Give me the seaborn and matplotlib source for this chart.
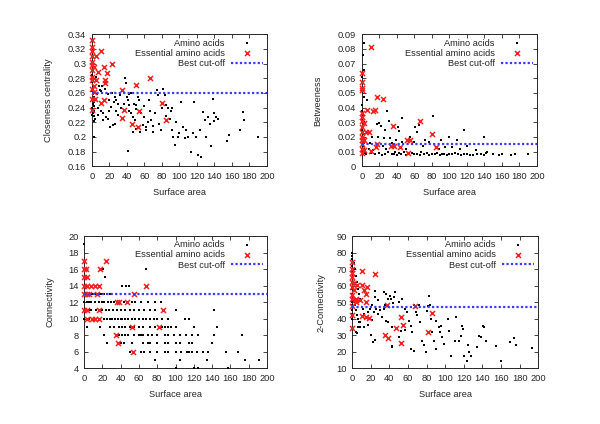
import numpy as np
import pandas as pd
import matplotlib
matplotlib.use("Agg")
import matplotlib.pyplot as plt
from matplotlib.ticker import FuncFormatter, MultipleLocator
import seaborn as sns

# ---- closeness centrality vs surface area ----
close_area = [0, 0, 1, 0, 1, 2, 0, 1, 3, 0, 2, 1, 3, 0, 2, 1, 0, 3, 4, 2, 5, 6, 8, 9, 6, 2,
              7, 11, 13, 7, 16, 18, 20, 22, 13, 21, 24, 26, 26, 28, 30, 32, 34, 38, 39, 40,
              41, 42, 43, 43, 45, 47, 49, 51, 53, 54, 56, 58, 60, 62, 64, 66, 68, 70, 72, 74,
              76, 77, 79, 81, 83, 85, 87, 89, 91, 93, 95, 98, 102, 104, 106, 110, 113, 117,
              119, 121, 125, 127, 129, 133, 135, 138, 139, 142, 154, 157, 169, 173, 174, 190,
              41, 51, 47, 55, 62, 10, 12, 15, 18, 20, 23, 25, 28, 30, 33, 36, 37, 45, 48, 50,
              57, 60, 65, 70, 80, 85, 90, 92, 96, 100, 108, 115, 123, 130, 136, 140, 144]
close_val = [0.29, 0.285, 0.28, 0.275, 0.27, 0.268, 0.262, 0.258, 0.255, 0.25, 0.248, 0.245,
             0.242, 0.24, 0.235, 0.232, 0.23, 0.228, 0.225, 0.222, 0.282, 0.276, 0.27, 0.264,
             0.258, 0.2, 0.239, 0.236, 0.232, 0.23, 0.227, 0.225, 0.236, 0.241, 0.223, 0.214,
             0.216, 0.218, 0.255, 0.25, 0.245, 0.257, 0.264, 0.28, 0.273, 0.255, 0.25, 0.243,
             0.259, 0.236, 0.232, 0.227, 0.223, 0.243, 0.255, 0.25, 0.232, 0.216, 0.227, 0.209,
             0.22, 0.236, 0.223, 0.207, 0.232, 0.264, 0.257, 0.218, 0.209, 0.266, 0.257, 0.243,
             0.239, 0.225, 0.209, 0.2, 0.189, 0.2, 0.248, 0.214, 0.198, 0.2, 0.18, 0.248, 0.2,
             0.175, 0.172, 0.234, 0.223, 0.227, 0.218, 0.252, 0.232, 0.227, 0.195, 0.202, 0.209,
             0.234, 0.223, 0.2, 0.181, 0.211, 0.207, 0.207, 0.214, 0.262, 0.27, 0.265, 0.258,
             0.25, 0.26, 0.248, 0.235, 0.23, 0.24, 0.226, 0.245, 0.26, 0.245, 0.238, 0.26, 0.242,
             0.25, 0.215, 0.24, 0.228, 0.235, 0.24, 0.22, 0.205, 0.21, 0.205, 0.21, 0.2, 0.187,
             0.222, 0.225]
close_ess_area = [0, 0, 0, 10, 0, 5, 0, 0, 23, 3, 14, 7, 0, 17, 0, 0, 15, 15, 5, 66, 51, 3,
                  0, 35, 3, 0, 4, 14, 10, 80, 0, 37, 54, 85, 34, 46, 53]
close_ess = [0.332, 0.323, 0.317, 0.317, 0.311, 0.31, 0.302, 0.298, 0.299, 0.296, 0.295,
             0.289, 0.291, 0.287, 0.282, 0.278, 0.277, 0.274, 0.277, 0.28, 0.271, 0.27, 0.266,
             0.264, 0.261, 0.252, 0.252, 0.25, 0.246, 0.246, 0.237, 0.237, 0.235, 0.223, 0.226,
             0.217, 0.214]
close_cut = 0.26

# ---- betweeness vs surface area ----
betw_area = [2, 1, 2, 0, 2, 6, 0, 0, 1, 0, 2, 1, 0, 3, 1, 0, 2, 1, 3, 0, 2, 5, 8, 10, 13, 15,
             29, 46, 81, 41, 42, 61, 63, 65, 20, 22, 17, 27, 31, 117, 140, 99, 109, 18, 25, 32,
             39, 46, 60, 77, 90, 103, 120, 9, 12, 24, 28, 35, 38, 50, 55, 70, 72, 88, 95, 112,
             130, 143, 20, 23, 26, 30, 34, 37, 40, 43, 45, 48, 51, 54, 57, 60, 63, 66, 68, 71,
             74, 77, 80, 83, 86, 89, 91, 94, 97, 100, 103, 106, 110, 113, 117, 120, 124, 127,
             131, 136, 140, 142, 150, 157, 160, 170, 175, 190]
betw_val = [0.0838, 0.0758, 0.066, 0.061, 0.0473, 0.045, 0.0416, 0.038, 0.035, 0.032, 0.03,
            0.027, 0.025, 0.022, 0.02, 0.018, 0.016, 0.014, 0.012, 0.01, 0.009, 0.008, 0.012,
            0.009, 0.011, 0.008, 0.038, 0.033, 0.0345, 0.0267, 0.024, 0.0265, 0.0235, 0.028,
            0.0295, 0.0272, 0.029, 0.0244, 0.0308, 0.0249, 0.02, 0.0199, 0.0176, 0.0201, 0.0192,
            0.0192, 0.0178, 0.0162, 0.0162, 0.0162, 0.0176, 0.013, 0.0135, 0.016, 0.02, 0.014,
            0.012, 0.016, 0.01, 0.012, 0.02, 0.014, 0.018, 0.012, 0.013, 0.012, 0.011, 0.01,
            0.009, 0.0075, 0.008, 0.01, 0.008, 0.0085, 0.0075, 0.009, 0.008, 0.0095, 0.0078,
            0.0085, 0.009, 0.008, 0.0085, 0.0075, 0.0095, 0.008, 0.009, 0.0078, 0.0085, 0.008,
            0.009, 0.0078, 0.0085, 0.008, 0.0075, 0.0085, 0.008, 0.009, 0.008, 0.0075, 0.0085,
            0.008, 0.0078, 0.0075, 0.0085, 0.008, 0.0078, 0.009, 0.008, 0.0075, 0.008, 0.0078,
            0.008, 0.0085]
betw_ess_area = [10, 0, 0, 0, 0, 17, 24, 6, 13, 15, 0, 0, 0, 66, 3, 0, 36, 5, 8, 0, 80, 0,
                 52, 55, 0, 17, 33, 37, 44, 85, 0, 3, 11, 0, 53, 16, 3, 0]
betw_ess = [0.0816, 0.0637, 0.0576, 0.0537, 0.052, 0.0473, 0.046, 0.0386, 0.038, 0.0385,
            0.036, 0.0337, 0.0309, 0.0306, 0.0295, 0.0267, 0.0272, 0.0233, 0.0233, 0.0199,
            0.0218, 0.0176, 0.0181, 0.0181, 0.0153, 0.0149, 0.0137, 0.0137, 0.013, 0.013,
            0.0119, 0.0112, 0.0103, 0.009, 0.0092, 0.013, 0.0176, 0.0233]
betw_cut = 0.015

# ---- connectivity vs surface area ----
conn_area = ([0] + [21, 68] + [23] + [41, 46, 49]
             + [0, 2, 4, 6, 8, 10, 12, 15, 18, 20, 22, 25, 28]
             + [0, 3, 5, 8, 12, 16, 20, 22, 26, 30, 33, 38, 44, 48, 52, 56, 62, 70, 78, 84]
             + [0, 2, 5, 8, 13, 18, 20, 24, 27, 32, 36, 40, 45, 50, 55, 60, 66, 72, 78, 100, 142]
             + [0, 3, 6, 10, 22, 25, 28, 31, 34, 37, 40, 42, 45, 48, 52, 56, 60, 64, 68, 72,
                76, 80, 85, 92, 110, 115]
             + [3, 18, 28, 33, 38, 42, 45, 50, 55, 60, 65, 72, 78, 85, 88, 92, 95, 100, 120, 145]
             + [22, 38, 42, 45, 48, 55, 60, 62, 65, 70, 74, 80, 88, 92, 98, 105, 112, 118, 125,
                142, 173]
             + [25, 40, 44, 52, 65, 70, 72, 80, 88, 92, 100, 105, 115, 118, 140]
             + [50, 55, 62, 66, 72, 80, 88, 92, 100, 106, 113, 115, 118, 123, 130, 135, 155, 168]
             + [78, 105, 134, 176, 191]
             + [100, 120, 125, 157])
conn_val = ([19] + [16] * 2 + [15] + [14] * 3 + [13] * 13 + [12] * 20 + [11] * 21
            + [10] * 26 + [9] * 20 + [8] * 21 + [7] * 15 + [6] * 18 + [5] * 5 + [4] * 4)
conn_ess_area = [0, 24, 0, 2, 17, 0, 3, 0, 3, 8, 12, 16, 68, 0, 3, 6, 14, 55, 36, 38, 47,
                 0, 3, 16, 86, 3, 9, 12, 16, 52, 82, 35, 37, 54]
conn_ess = [17, 17, 16, 16, 16, 15, 15, 14, 14, 14, 14, 14, 14, 13, 13, 13, 13, 13, 12, 12,
            12, 11, 11, 11, 11, 10, 10, 10, 10, 9, 9, 8, 7, 6]
conn_cut = 13

# ---- 2-connectivity vs surface area ----
conn2_area = ([0] * 15 + [2, 3, 4, 5, 6, 7, 8, 2, 3, 4, 5, 6, 7, 8, 5]
              + [24, 24, 24, 22, 45, 42, 44, 35, 34, 30, 28, 32, 36, 39, 43, 43, 43, 50, 52,
                 57, 61, 63, 64, 63, 66, 69, 70, 72, 73, 75, 77, 79, 80, 82, 83, 84, 85, 86, 88,
                 90, 90, 93, 94, 96, 97, 99, 103, 104, 106, 110, 112, 115, 117, 118, 119, 120,
                 123, 124, 126, 128, 134, 136, 139, 141, 142, 144, 155, 160, 170, 174, 176, 193]
              + [21, 19, 17, 23, 26, 28, 34, 36, 39, 41, 46, 50, 54, 57, 59, 66, 12, 13, 8, 6,
                 4, 13, 17, 21, 20])
conn2_val = ([80, 78, 76, 72, 68, 65, 62, 58, 55, 52, 50, 48, 45, 43, 40]
             + [74, 70, 66, 62, 58, 55, 52, 50, 48, 45, 42, 40, 38, 35, 31]
             + [57, 53, 27, 26, 53, 51.6, 49.6, 48, 46, 45, 43, 40.9, 38.8, 37.8, 34.7, 22.6,
                23.6, 28.7, 32.7, 33.3, 38.8, 35.8, 31.7, 21.6, 20.6, 44, 41.9, 48, 37.8, 26.7,
                24, 19.5, 44.7, 47.6, 54, 48, 39.8, 32.1, 26.7, 21.6, 38.8, 34.7, 31.7, 35.8,
                28.7, 24.6, 39.8, 32.7, 17.5, 26.7, 40.9, 26.1, 29.7, 35.8, 33.7, 17.5, 14.5,
                24, 19.5, 17.5, 22.6, 29.7, 28.7, 35.8, 34.7, 26.7, 23.6, 14.1, 26, 28, 24, 22]
             + [48, 46, 44, 44, 46, 51, 56, 55, 52, 54, 56, 50, 52, 46, 44, 48, 46, 43, 38, 35,
                32, 35, 36, 39, 30])
conn2_ess_area = [0, 0, 0, 0, 0, 0, 2, 2, 0, 0, 3, 4, 0, 0, 0, 10, 24, 5, 10, 16, 13, 15,
                  15, 8, 4, 11, 15, 18, 37, 68, 86, 52, 55, 47, 81, 35, 38, 53]
conn2_ess = [74.4, 70.3, 67.9, 65.3, 62.2, 59.1, 61.8, 57.1, 54.1, 51.6, 51, 50, 47.6, 41.9,
             34.2, 68.9, 66.9, 60.6, 60.2, 59.1, 57.1, 55.1, 50, 51, 51.6, 41.5, 40.9, 40.3,
             48, 47.4, 43.5, 40.9, 36.2, 34.2, 32.1, 30.1, 28.1, 25.2]
conn2_cut = 47

# label, all x, all y, essential x, essential y, cut-off, ylim, y step, axes rect, ylabel pad
panels = [
    ("Closeness centrality", close_area, close_val, close_ess_area, close_ess, close_cut,
     (0.16, 0.34), 0.02, [0.153, 0.608, 0.292, 0.311], 11),
    ("Betweeness", betw_area, betw_val, betw_ess_area, betw_ess, betw_cut,
     (0, 0.09), 0.01, [0.603, 0.608, 0.292, 0.311], 11),
    ("Connectivity", conn_area, conn_val, conn_ess_area, conn_ess, conn_cut,
     (4, 20), 2, [0.140, 0.132, 0.305, 0.311], 10),
    ("2-Connectivity", conn2_area, conn2_val, conn2_ess_area, conn2_ess, conn2_cut,
     (10, 90), 10, [0.587, 0.132, 0.310, 0.311], 8),
]

sns.set_style("ticks")
plt.rcParams['font.family'] = ['Liberation Sans', 'DejaVu Sans']
fs = 6.7

fig = plt.figure(figsize=(6, 4.24), dpi=100)

for ylabel, ax_x, ax_y, ess_x, ess_y, cut, ylim, ystep, rect, ypad in panels:
    ax = fig.add_axes(rect)
    df_all = pd.DataFrame({"area": ax_x, "value": ax_y})
    df_ess = pd.DataFrame({"area": ess_x, "value": ess_y})

    sns.scatterplot(data=df_all, x="area", y="value", ax=ax, color="black", marker="s",
                    s=3, linewidth=0, label="Amino acids", clip_on=False, zorder=3)
    sns.scatterplot(data=df_ess, x="area", y="value", ax=ax, color="#f52020", marker="x",
                    s=13, linewidth=1.1, label="Essential amino acids", clip_on=False,
                    zorder=4)
    ax.axhline(cut, color="#3a3aff", linestyle=(0, (1, 1)), linewidth=1.6,
               label="Best cut-off", zorder=5)

    ax.set_xlim(0, 200)
    ax.set_ylim(*ylim)
    ax.xaxis.set_major_locator(MultipleLocator(20))
    ax.yaxis.set_major_locator(MultipleLocator(ystep))
    ax.yaxis.set_major_formatter(FuncFormatter(lambda v, p: "%g" % round(v, 4)))
    ax.tick_params(direction="in", top=True, right=True, length=3, width=0.6,
                   labelsize=fs, pad=4)
    for sp in ax.spines.values():
        sp.set_linewidth(0.7)
    ax.set_xlabel("Surface area", fontsize=fs, labelpad=5)
    ax.set_ylabel(ylabel, fontsize=fs, labelpad=ypad)

    leg = ax.legend(loc="upper right", frameon=False, markerfirst=False, fontsize=fs,
                    handlelength=3.4, handletextpad=0.7, labelspacing=0.12,
                    borderaxespad=0.25, borderpad=0.2, markerscale=1.0)

fig.savefig("out.png", dpi=100, facecolor="white")
